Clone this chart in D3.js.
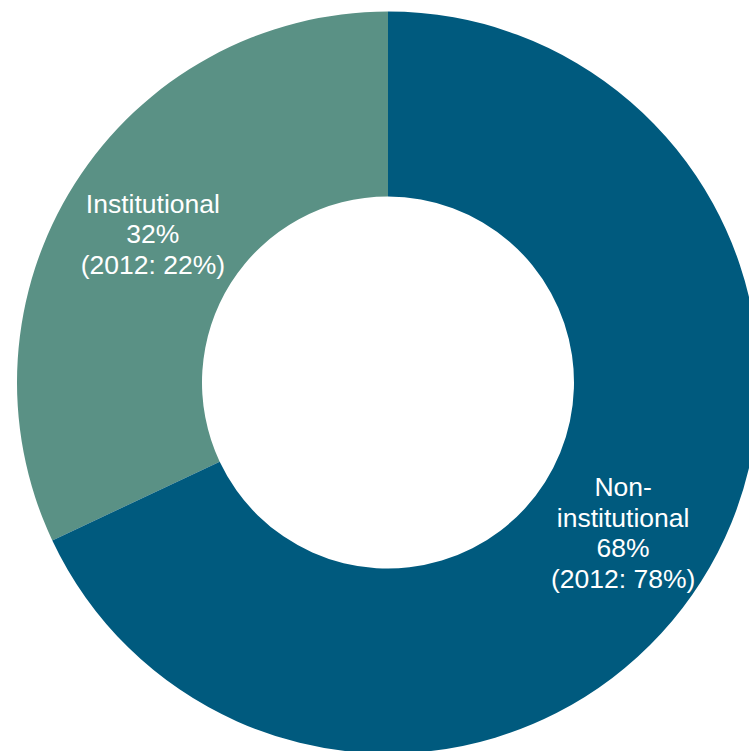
<!DOCTYPE html>
<html>
<head>
<meta charset="utf-8">
<script src="https://cdn.jsdelivr.net/npm/d3@7"></script>
<style>
  html, body { margin: 0; padding: 0; background: #ffffff; overflow: hidden; }
  svg { display: block; }
</style>
</head>
<body>
<svg id="chart" width="749" height="751"></svg>
<script>
// Investor mix (share of total, %)
const categories = ["Institutional", "Non-institutional"];
const shares = [32, 68];
const shares2012 = [22, 78];
const labelLines = [
  ["Institutional", "32%", "(2012: 22%)"],
  ["Non-", "institutional", "68%", "(2012: 78%)"]
];
const colors = ["#5a9185", "#005a7e"];

const width = 749, height = 751;
const cx = 388, cy = 382.5;
const outerR = 371, innerR = 186;

const svg = d3.select("#chart");
const g = svg.append("g").attr("transform", `translate(${cx},${cy})`);

// Institutional runs counter-clockwise from 12 o'clock, the rest clockwise
const data = categories.map((c, i) => ({ name: c, value: shares[i], prior: shares2012[i], idx: i }));
const total = d3.sum(shares);
const angle = d3.scaleLinear().domain([0, total]).range([0, 2 * Math.PI]);

const slices = [
  { d: data[0], startAngle: -angle(data[0].value), endAngle: 0 },
  { d: data[1], startAngle: 0, endAngle: angle(data[1].value) }
];

const arc = d3.arc().innerRadius(innerR).outerRadius(outerR);

g.selectAll("path.slice")
  .data(slices)
  .join("path")
  .attr("class", "slice")
  .attr("d", s => arc(s))
  .attr("fill", s => colors[s.d.idx]);

const fontSize = 26.5;
const lineH = 30.5;

g.selectAll("text.lbl")
  .data(slices)
  .join("text")
  .attr("class", "lbl")
  .attr("text-anchor", "middle")
  .attr("font-family", "'Liberation Sans', Arial, sans-serif")
  .attr("font-size", fontSize)
  .attr("fill", "#ffffff")
  .each(function (s) {
    const [x, y] = arc.centroid(s);
    const lines = labelLines[s.d.idx];
    const first = y + 0.38 * fontSize - (lines.length - 1) * lineH / 2;
    d3.select(this).selectAll("tspan")
      .data(lines)
      .join("tspan")
      .attr("x", x)
      .attr("y", (t, i) => first + i * lineH)
      .text(t => t);
  });
</script>
</body>
</html>
